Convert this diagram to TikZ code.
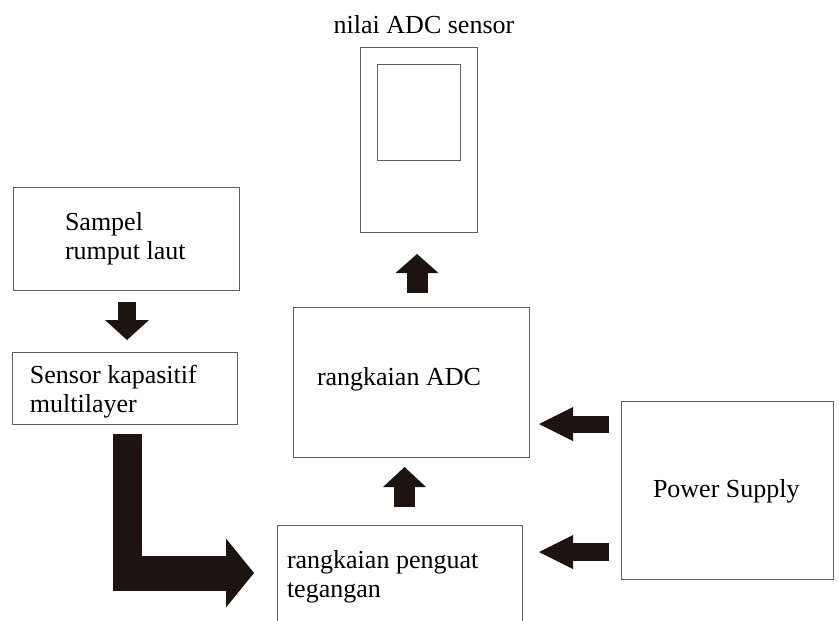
\documentclass[tikz,border=0pt]{standalone}
\usepackage{fontspec}
\setmainfont{Liberation Serif}
\usetikzlibrary{arrows.meta,calc}
\definecolor{boxline}{RGB}{95,95,95}
\definecolor{arrowfill}{RGB}{28,20,17}
\newcommand{\mylines}[2]{\vtop{\hbox{#1}\hbox{#2}}}
\tikzset{
  box/.style={draw=boxline,line width=1pt,inner sep=0pt,outer sep=0pt,anchor=north west},
  lbl/.style={anchor=base west,inner sep=0pt,outer sep=0pt,font=\fontsize{26}{29}\selectfont},
  fatarrow/.style n args={3}{draw=arrowfill,line width=#1,
    -{Triangle[width=#2,length=#3,line width=0pt,fill=arrowfill]}},
  fatbar/.style={draw=arrowfill,line width=#1}
}
\begin{document}
\begin{tikzpicture}[x=1pt,y=-1pt]
\path[use as bounding box,fill=white] (0,0) rectangle (839,621);
\clip (0,0) rectangle (839,621);

% boxes
\node[box,minimum width=226pt,minimum height=103pt] (sampel) at (13,187) {};
\node[box,minimum width=225pt,minimum height=72pt] (sensor) at (12,352) {};
\node[box,minimum width=117pt,minimum height=185pt] (display) at (360,47) {};
\node[box,minimum width=83pt,minimum height=96pt] (screen) at (377,64) {};
\node[box,minimum width=236pt,minimum height=150pt] (adc) at (293,307) {};
\node[box,minimum width=245pt,minimum height=120pt] (penguat) at (277,525) {};
\node[box,minimum width=212pt,minimum height=178pt] (power) at (621,401) {};

% texts
\node[lbl,anchor=base] (displayT) at (424,33) {nilai ADC sensor};
\node[lbl] (sampelT) at (65,230) {\mylines{Sampel}{rumput laut}};
\node[lbl] (sensorT) at (30,383) {\mylines{Sensor kapasitif}{multilayer}};
\node[lbl] (adcT) at (317,385) {rangkaian ADC};
\node[lbl] (penguatT) at (287,568) {\mylines{rangkaian penguat}{tegangan}};
\node[lbl] (powerT) at (653,497) {Power Supply};

% block arrows
\draw[fatarrow={18pt}{44pt}{20pt}] ($(sampel.south)+(1,12)$) -- ($(sensor.north)+(2.5,-12)$);
\draw[fatarrow={21pt}{43pt}{19pt}] ($(adc.north)+(6,-14)$) -- ($(display.south)+(-1.5,22)$);
\draw[fatarrow={21pt}{43pt}{20pt}] ($(penguat.north)+(5,-18)$) -- ($(adc.south)+(-6.5,10)$);
\draw[fatarrow={17pt}{34pt}{34pt}] ($(power.west)+(-12,-66)$) -- ($(adc.east)+(10,42)$);
\draw[fatarrow={18pt}{34pt}{34pt}] ($(power.west)+(-12,62)$) -- ($(penguat.east)+(17,-33)$);

% L-shaped arrow
\draw[fatbar=29pt] ($(sensor.south)+(3,10)$) -- ($(sensor.south)+(3,166)$);
\draw[fatarrow={35pt}{69pt}{28pt}] ($(sensor.south)+(-11.5,149)$) -- ($(penguat.west)+(-23,-12)$);
\end{tikzpicture}
\end{document}
